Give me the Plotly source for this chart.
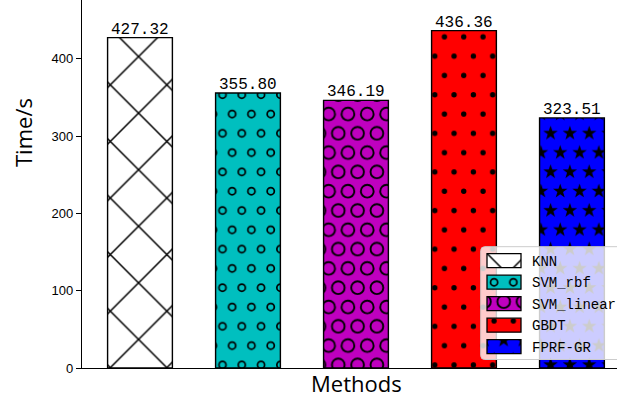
import math
import plotly.graph_objects as go

# ---- data -------------------------------------------------------------
methods = ["KNN", "SVM_rbf", "SVM_linear", "GBDT", "FPRF-GR"]
times = [427.32, 355.80, 346.19, 436.36, 323.51]
y_ticks = [0, 100, 200, 300, 400]

# ---- styling ----------------------------------------------------------
colors = ["#FFFFFF", "#00BFBF", "#BF00BF", "#FF0000", "#0000FF"]
PITCH = 19.3          # hatch lattice pitch in px
TILE = 2 * PITCH      # square pattern tile holding the staggered lattice
ROW_B = (5.4, 17.5)   # first lattice point of the tile


def lattice_points():
    pts = []
    xb, yb = ROW_B
    for dx, dy in [(0, 0), (PITCH, 0), (PITCH / 2, PITCH), (1.5 * PITCH, PITCH)]:
        for ox in (-TILE, 0, TILE):
            for oy in (-TILE, 0, TILE):
                pts.append((xb + dx + ox, yb + dy + oy))
    return pts


def visible(pts, r):
    return [(x, y) for x, y in pts if -r < x < TILE + r and -r < y < TILE + r]


def circle(cx, cy, r, sweep=1):
    return (f"M{cx + r:.2f},{cy:.2f}A{r},{r} 0 1 {sweep} {cx - r:.2f},{cy:.2f}"
            f"A{r},{r} 0 1 {sweep} {cx + r:.2f},{cy:.2f}Z")


def ring_path(ro, ri):
    return "".join(circle(x, y, ro, 1) + circle(x, y, ri, 0)
                   for x, y in visible(lattice_points(), ro))


def dot_path(r):
    return "".join(circle(x, y, r) for x, y in visible(lattice_points(), r))


def star_path(ro, ri):
    out = []
    for cx, cy in visible(lattice_points(), ro):
        pts = []
        for k in range(10):
            a = math.radians(-90 + 36 * k)
            rr = ro if k % 2 == 0 else ri
            pts.append(f"{cx + rr * math.cos(a):.2f},{cy + rr * math.sin(a):.2f}")
        out.append("M" + "L".join(pts) + "Z")
    return "".join(out)


patterns = [
    dict(shape="x", size=40, solidity=0.075, fgcolor="black", bgcolor=colors[0],
         fgopacity=1),
    dict(path=ring_path(4.4, 2.7), size=TILE, fgcolor="black", bgcolor=colors[1],
         fgopacity=1),
    dict(path=ring_path(7.3, 5.4), size=TILE, fgcolor="black", bgcolor=colors[2],
         fgopacity=1),
    dict(path=dot_path(2.7), size=TILE, fgcolor="black", bgcolor=colors[3],
         fgopacity=1),
    dict(path=star_path(7.6, 3.0), size=TILE, fgcolor="black", bgcolor=colors[4],
         fgopacity=1),
]

W, H = 617, 398
ML, MB = 82, 30
PLOT_W, PLOT_H = W - ML, H - MB
Y_TOP = 476

fig = go.Figure()

for name, val, col, pat in zip(methods, times, colors, patterns):
    marker = dict(color=col, line=dict(color="black", width=1.4), pattern=pat)
    # main bar
    fig.add_trace(go.Bar(
        x=[name], y=[val], width=0.6, marker=marker,
        showlegend=False, hoverinfo="skip", xaxis="x", yaxis="y",
    ))
    # value label sitting on the bar top
    fig.add_annotation(
        x=name, y=val, xref="x", yref="y", text=f"{val:.2f}",
        showarrow=False, xanchor="center", yanchor="bottom", yshift=-3,
        font=dict(family="Liberation Mono", size=16, color="black"),
    )
    # legend handle drawn in the inset axes
    fig.add_trace(go.Bar(
        y=[name], x=[34], base=[8], orientation="h", width=0.65,
        marker=dict(color=col, line=dict(color="black", width=1.3), pattern=pat),
        showlegend=False, hoverinfo="skip", xaxis="x2", yaxis="y2",
    ))

# legend inset geometry (px)
box_left, box_top, box_bot = 480.7, 246.7, 359.5
row0, row_step = 260.7, 21.5
dom_left, dom_top, dom_bot = 479.0, 245.5, 360.5


def py_to_idx(p):
    return (p - row0) / row_step


x2_domain = [(dom_left - ML) / PLOT_W, 1.0]
x2_range = [0, W - dom_left]
y2_domain = [1 - dom_bot / PLOT_H, 1 - dom_top / PLOT_H]
y2_range = [py_to_idx(dom_bot), py_to_idx(dom_top)]

bx0 = box_left - dom_left
bx1 = x2_range[1] + 20
by0 = py_to_idx(box_top)
by1 = py_to_idx(box_bot)
rx, ry = 4.0, 4.0 / row_step
box_path = (f"M{bx1},{by0} L{bx0 + rx},{by0} Q{bx0},{by0} {bx0},{by0 + ry} "
            f"L{bx0},{by1 - ry} Q{bx0},{by1} {bx0 + rx},{by1} L{bx1},{by1} Z")
fig.add_shape(type="path", path=box_path, xref="x2", yref="y2", layer="below",
              fillcolor="rgba(255,255,255,0.8)",
              line=dict(color="#CCCCCC", width=1))

fig.update_layout(
    width=W, height=H,
    margin=dict(l=ML, r=0, t=0, b=MB, autoexpand=False),
    paper_bgcolor="white", plot_bgcolor="rgba(0,0,0,0)",
    barmode="overlay", showlegend=False,
    xaxis=dict(
        type="category", categoryorder="array", categoryarray=methods,
        range=[-0.537, 4.417], domain=[0, 1],
        showticklabels=False, ticks="", showgrid=False, zeroline=False,
        showline=True, linecolor="black", linewidth=1.3,
    ),
    yaxis=dict(
        range=[0, Y_TOP], domain=[0, 1], tickvals=y_ticks,
        ticks="outside", ticklen=5, tickwidth=1.3, tickcolor="black",
        tickfont=dict(family="Liberation Sans", size=13, color="black"),
        showgrid=False, zeroline=False,
        showline=True, linecolor="black", linewidth=1.3,
    ),
    xaxis2=dict(
        domain=x2_domain, range=x2_range, anchor="y2",
        showticklabels=False, ticks="", showgrid=False, zeroline=False,
        showline=False, fixedrange=True,
    ),
    yaxis2=dict(
        domain=y2_domain, range=y2_range, anchor="x2",
        type="category", categoryorder="array", categoryarray=methods,
        side="left", ticklabelposition="inside", ticks="",
        ticklabelstandoff=50,
        tickfont=dict(family="Liberation Mono", size=14, color="black"),
        showgrid=False, zeroline=False, showline=False, fixedrange=True,
    ),
)

fig.add_annotation(
    text="Time/s", textangle=-90, showarrow=False,
    xref="paper", yref="paper",
    x=(23 - ML) / PLOT_W, y=1 - 133 / PLOT_H,
    xanchor="center", yanchor="middle",
    font=dict(family="Open Sans", size=22, color="black"),
)
fig.add_annotation(
    text="Methods", showarrow=False,
    xref="paper", yref="paper",
    x=(356 - ML) / PLOT_W, y=1 - 382.5 / PLOT_H,
    xanchor="center", yanchor="middle", borderpad=0,
    font=dict(family="Open Sans", size=22, color="black"),
)

fig.write_html("out.html")
